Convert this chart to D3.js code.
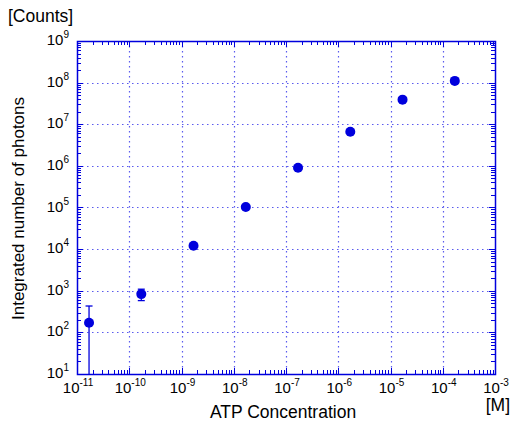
<!DOCTYPE html>
<html>
<head>
<meta charset="utf-8">
<script src="https://cdn.jsdelivr.net/npm/d3@7"></script>
<style>
body { margin: 0; background: #fff; }
text { font-family: "Liberation Sans", Arial, sans-serif; }
</style>
</head>
<body>
<div id="chart-area"></div>
<script>
// ATP concentration [M] vs integrated photons [Counts]
const concentration = [1.7e-11, 1.7e-10, 1.7e-9, 1.7e-8, 1.7e-7, 1.7e-6, 1.7e-5, 1.7e-4]
const photons = [170, 830, 1.2e4, 1.03e5, 9.0e5, 6.6e6, 3.9e7, 1.1e8]
const errLow = [1, 580, 1.2e4, 1.03e5, 9.0e5, 6.6e6, 3.9e7, 1.1e8]
const errHigh = [430, 1090, 1.2e4, 1.03e5, 9.0e5, 6.6e6, 3.9e7, 1.1e8]
const xExponents = [-11, -10, -9, -8, -7, -6, -5, -4, -3]
const yExponents = [1, 2, 3, 4, 5, 6, 7, 8, 9]

const margin = { left: 77, right: 16, top: 41, bottom: 49 }
const width = 511 - margin.left - margin.right,
    height = 423 - margin.top - margin.bottom

const blue = "#0000dd"
const gridBlue = "#5a5aee"

const svg = d3.select("#chart-area")
	.append("svg")
		.attr("width", 511)
		.attr("height", 423)

const g = svg.append("g")
	.attr("transform", `translate(${margin.left}, ${margin.top})`)

const x = d3.scaleLog()
	.domain([1e-11, 1e-3])
	.range([0, width])

const y = d3.scaleLog()
	.domain([1e1, 1e9])
	.range([height, 0])

g.append("clipPath")
	.attr("id", "clip")
	.append("rect")
		.attr("width", width)
		.attr("height", height)

// Grid lines
g.selectAll(".vgrid")
	.data(xExponents.slice(1, -1))
	.enter().append("line")
		.attr("x1", d => Math.round(x(Math.pow(10, d))) + 0.5)
		.attr("x2", d => Math.round(x(Math.pow(10, d))) + 0.5)
		.attr("y1", 0)
		.attr("y2", height)
		.attr("stroke", gridBlue)
		.attr("stroke-width", 1.2)
		.attr("stroke-dasharray", "1.5,3.5")

g.selectAll(".hgrid")
	.data(yExponents.slice(1, -1))
	.enter().append("line")
		.attr("y1", d => Math.round(y(Math.pow(10, d))) + 0.5)
		.attr("y2", d => Math.round(y(Math.pow(10, d))) + 0.5)
		.attr("x1", 0)
		.attr("x2", width)
		.attr("stroke", gridBlue)
		.attr("stroke-width", 1.2)
		.attr("stroke-dasharray", "1.5,3.5")

// Minor/major ticks on all four sides
function logTicks(exps){
	let out = []
	for (let k = 0; k < exps.length - 1; k++){
		for (let m = 1; m <= 9; m++) out.push({ v: m * Math.pow(10, exps[k]), major: m === 1 })
	}
	out.push({ v: Math.pow(10, exps[exps.length - 1]), major: true })
	return out
}

const xt = logTicks(xExponents)
const yt = logTicks(yExponents)
const tickLen = 4

xt.forEach(t => {
	const px = Math.round(x(t.v)) + 0.5
	const len = t.major ? 6 : tickLen
	g.append("line").attr("x1", px).attr("x2", px).attr("y1", height).attr("y2", height - len)
		.attr("stroke", blue).attr("stroke-width", 1)
	g.append("line").attr("x1", px).attr("x2", px).attr("y1", 0).attr("y2", len)
		.attr("stroke", blue).attr("stroke-width", 1)
})

yt.forEach(t => {
	const py = Math.round(y(t.v)) + 0.5
	const len = t.major ? 6 : tickLen
	g.append("line").attr("y1", py).attr("y2", py).attr("x1", 0).attr("x2", len)
		.attr("stroke", blue).attr("stroke-width", 1)
	g.append("line").attr("y1", py).attr("y2", py).attr("x1", width).attr("x2", width - len)
		.attr("stroke", blue).attr("stroke-width", 1)
})

// Frame
g.append("rect")
	.attr("x", 0.5)
	.attr("y", 0.5)
	.attr("width", width)
	.attr("height", height)
	.attr("fill", "none")
	.attr("stroke", blue)
	.attr("stroke-width", 1.5)

// Tick labels
xExponents.forEach(e => {
	const t = g.append("text")
		.attr("x", x(Math.pow(10, e)) + 1)
		.attr("y", height + 19)
		.attr("text-anchor", "middle")
		.attr("font-size", "15px")
		.attr("fill", "#000")
	t.append("tspan").text("10")
	t.append("tspan").attr("dy", -7).attr("font-size", "10px").text(e)
})

yExponents.forEach(e => {
	const t = g.append("text")
		.attr("x", -8)
		.attr("y", y(Math.pow(10, e)) + 4)
		.attr("text-anchor", "end")
		.attr("font-size", "15px")
		.attr("fill", "#000")
	t.append("tspan").text("10")
	t.append("tspan").attr("dy", -7).attr("font-size", "10px").text(e)
})

// Error bars
const pts = concentration.map((c, i) => ({ c: c, v: photons[i], lo: errLow[i], hi: errHigh[i] }))

const eb = g.append("g").attr("clip-path", "url(#clip)")
pts.forEach(d => {
	if (d.hi === d.lo) return
	const px = x(d.c)
	eb.append("line").attr("x1", px).attr("x2", px)
		.attr("y1", y(d.lo)).attr("y2", y(d.hi))
		.attr("stroke", blue).attr("stroke-width", 1.3)
	;[d.lo, d.hi].forEach(v => {
		if (v <= 10) return
		eb.append("line").attr("x1", px - 3.5).attr("x2", px + 3.5)
			.attr("y1", y(v)).attr("y2", y(v))
			.attr("stroke", blue).attr("stroke-width", 1.3)
	})
})

// Points
g.selectAll("circle")
	.data(pts)
	.enter().append("circle")
		.attr("cx", d => x(d.c))
		.attr("cy", d => y(d.v))
		.attr("r", 5)
		.attr("fill", blue)

// Axis titles
svg.append("text")
	.attr("x", 8)
	.attr("y", 22)
	.attr("font-size", "17.5px")
	.text("[Counts]")

svg.append("text")
	.attr("transform", `translate(24, ${margin.top + height / 2 + 1}) rotate(-90)`)
	.attr("text-anchor", "middle")
	.attr("font-size", "17px")
	.text("Integrated number of photons")

svg.append("text")
	.attr("x", 283)
	.attr("y", 418)
	.attr("text-anchor", "middle")
	.attr("font-size", "17.5px")
	.text("ATP Concentration")

svg.append("text")
	.attr("x", 510)
	.attr("y", 411)
	.attr("text-anchor", "end")
	.attr("font-size", "17.5px")
	.text("[M]")
</script>
</body>
</html>
